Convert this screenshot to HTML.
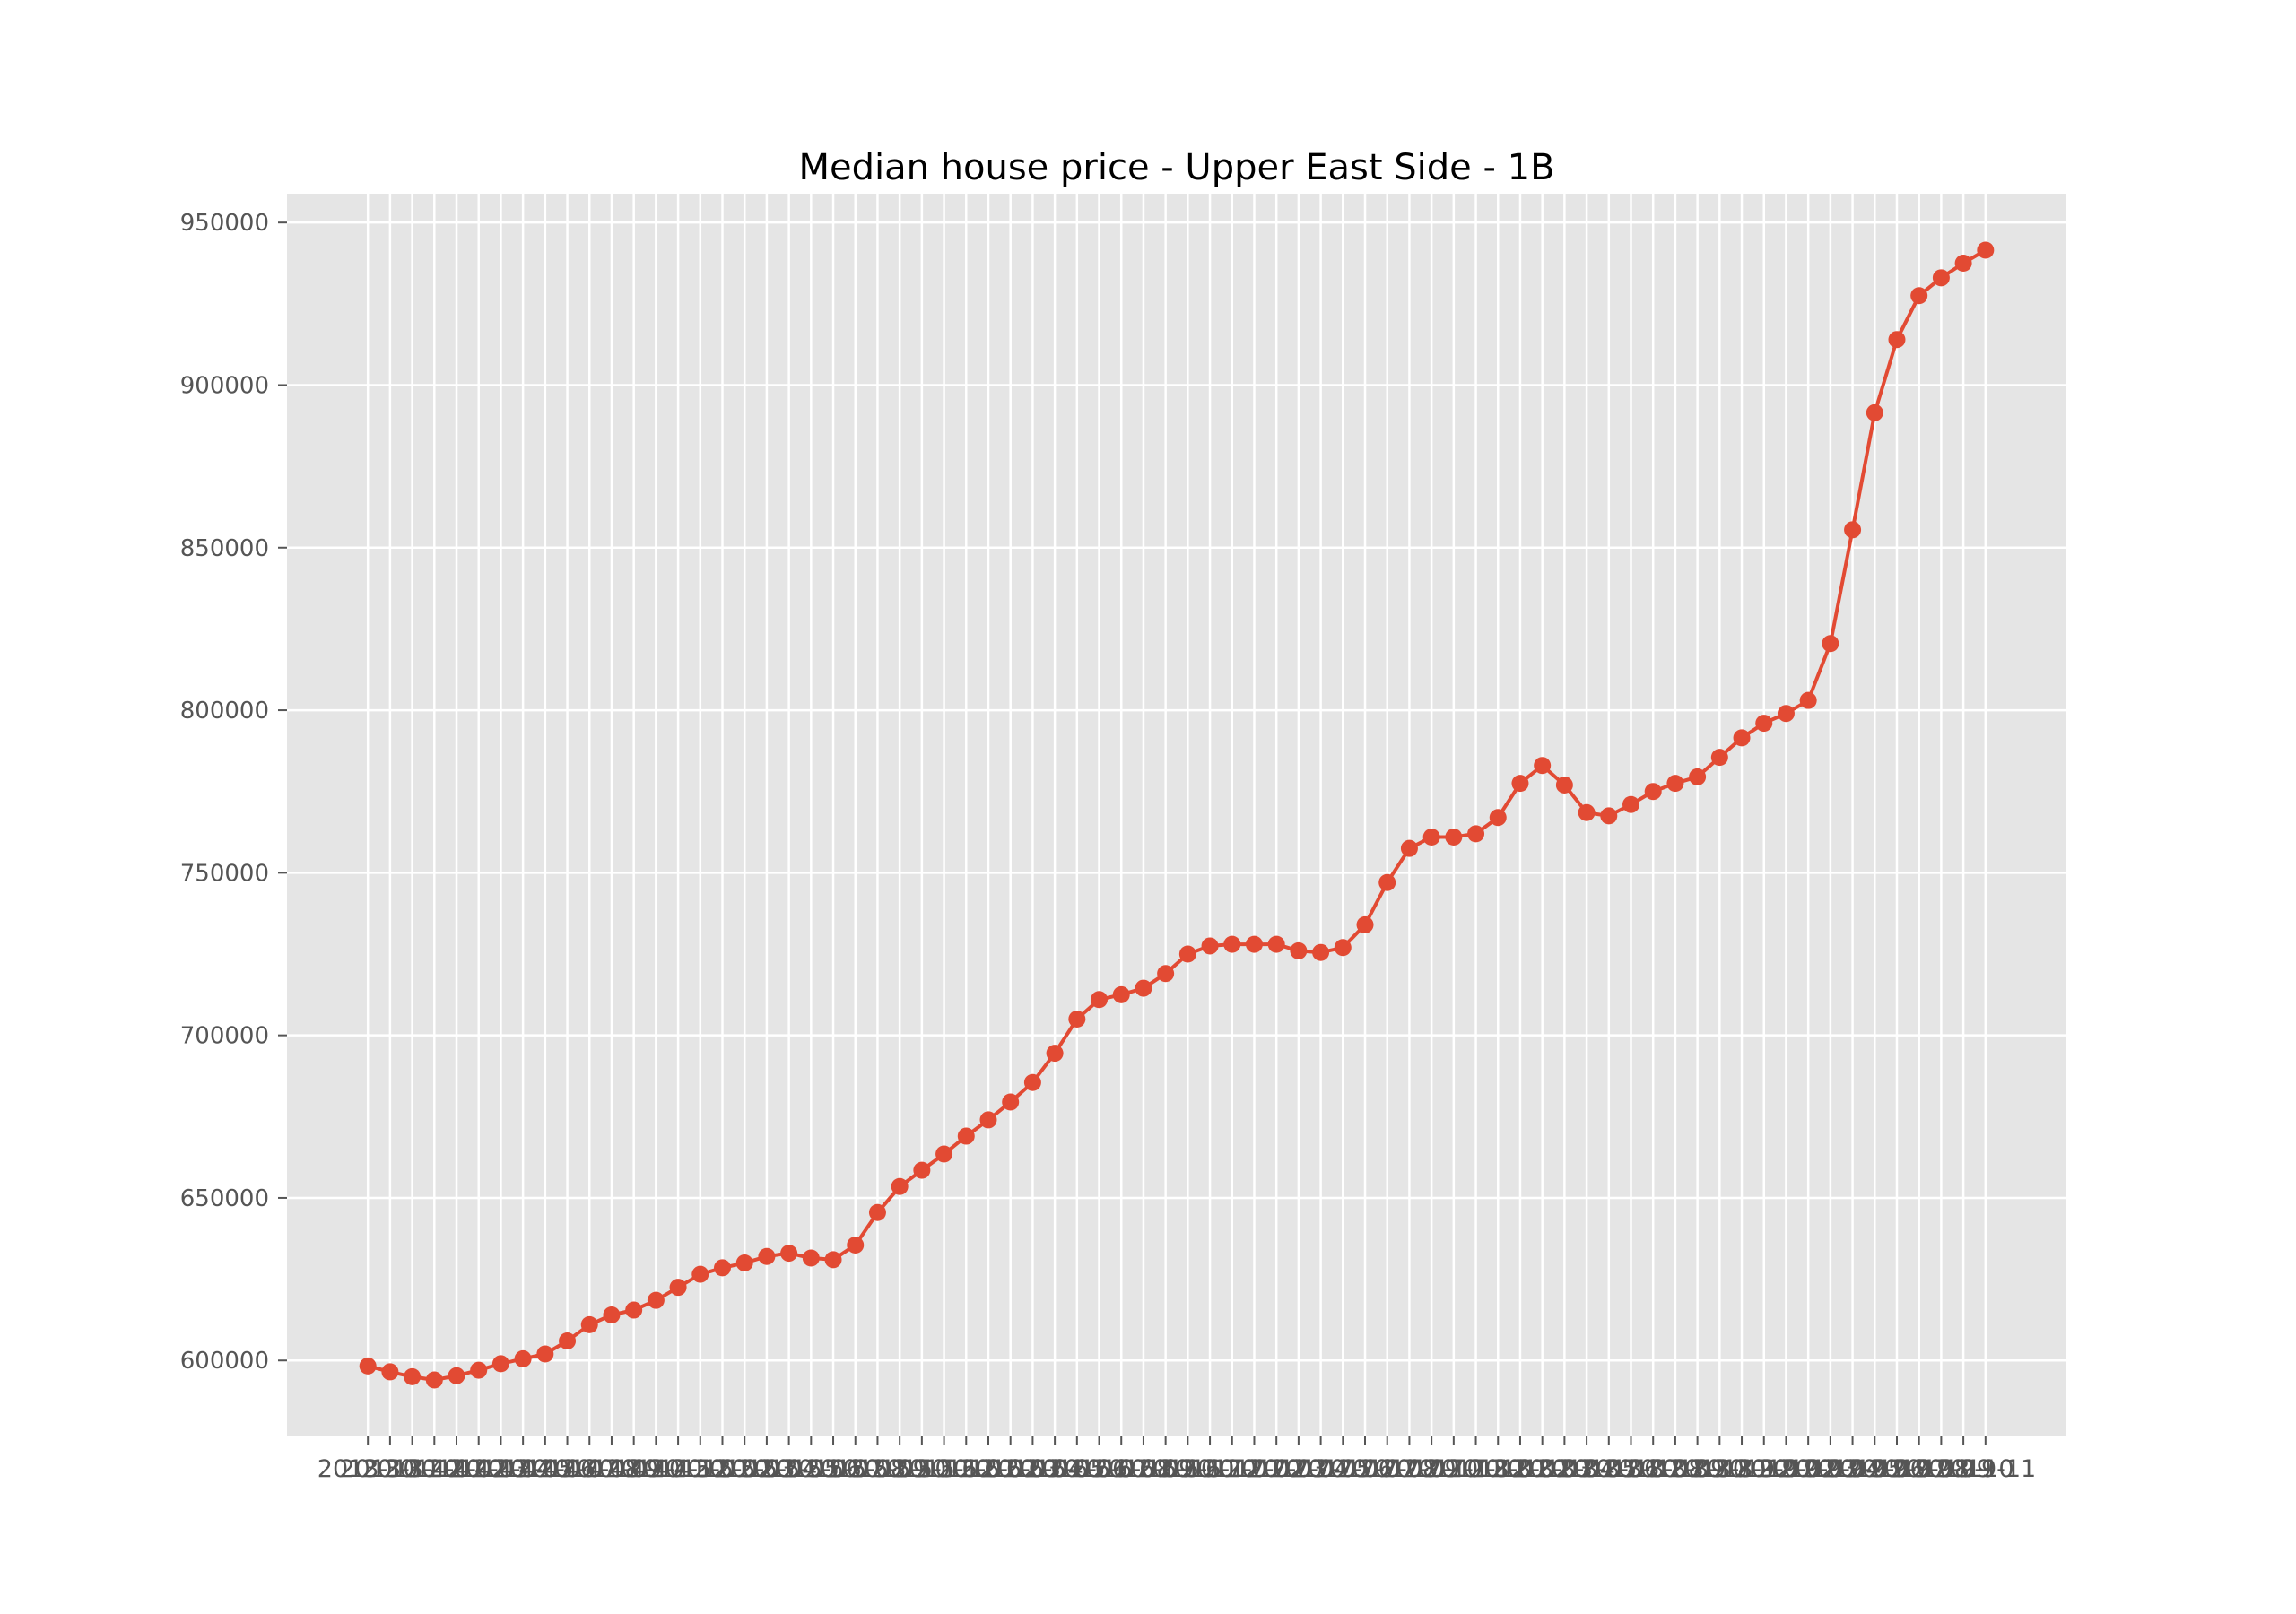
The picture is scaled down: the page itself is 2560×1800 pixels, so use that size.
<!DOCTYPE html>
<html><head><meta charset="utf-8"><title>Median house price</title>
<style>html,body{margin:0;padding:0;background:#fff}svg{display:block}</style>
</head><body>
<svg id="chart" width="2560" height="1800" viewBox="0 0 2560 1800" xmlns="http://www.w3.org/2000/svg" font-family="'DejaVu Sans','Liberation Sans',sans-serif">
<rect x="0" y="0" width="2560" height="1800" fill="#ffffff"/>
<rect x="320" y="216" width="1984" height="1386" fill="#e5e5e5"/>
<g id="grid"></g>
<g id="series"></g>
<g id="xticks"></g>
<g id="yticks"></g>
<text x="1312" y="200" text-anchor="middle" font-size="40" fill="#000">Median house price - Upper East Side - 1B</text>
</svg>
<script>
const prices = [598300,596500,595000,594000,595300,597000,599000,600500,602000,606000,
611000,614000,615500,618500,622500,626500,628500,630000,632000,633000,
631500,631000,635500,645500,653500,658500,663500,669000,674000,679500,
685500,694500,705000,711000,712500,714500,719000,725000,727500,728000,
728000,728000,726000,725500,727000,734000,747000,757500,761000,761000,
762000,767000,777500,783000,777000,768500,767500,771000,775000,777500,
779500,785500,791500,796000,799000,803000,820500,855500,891500,914000,
927500,933000,937500,941500];
const startYear = 2013;
const startMonth = 10;
const yTickValues = [600000,650000,700000,750000,800000,850000,900000,950000];

const NS = "http://www.w3.org/2000/svg";
const L = 320, R = 2304, T = 216, B = 1602;
const n = prices.length;
const labels = [];
for (let i = 0; i < n; i++) {
  const m = (startMonth - 1 + i) % 12 + 1;
  const y = startYear + Math.floor((startMonth - 1 + i) / 12);
  labels.push(y + "-" + String(m).padStart(2, "0"));
}
const mn = Math.min(...prices), mx = Math.max(...prices);
const yMin = mn - 0.05 * (mx - mn), yMax = mx + 0.05 * (mx - mn);
const xMin = -0.05 * (n - 1), xMax = (n - 1) * 1.05;
const xs = i => L + (i - xMin) / (xMax - xMin) * (R - L);
const ys = v => B - (v - yMin) / (yMax - yMin) * (B - T);
function mk(tag, attrs, parent) {
  const e = document.createElementNS(NS, tag);
  for (const k in attrs) e.setAttribute(k, attrs[k]);
  parent.appendChild(e);
  return e;
}
const grid = document.getElementById("grid");
const xt = document.getElementById("xticks");
const yt = document.getElementById("yticks");
const ser = document.getElementById("series");
for (let i = 0; i < n; i++) {
  const x = xs(i);
  const g = mk("line", {x1: x, x2: x, y1: T, y2: B, stroke: "#fff", "stroke-width": 2.5}, grid);
  
  
  const t = mk("line", {x1: x, x2: x, y1: B, y2: B + 10, stroke: "#555", "stroke-width": 2}, xt);
  
  
  const lb = mk("text", {x: x, y: B + 45, "text-anchor": "middle", "font-size": 27, fill: "#555"}, xt);
  lb.textContent = labels[i];
  
  
}
yTickValues.forEach(v => {
  const y = ys(v);
  const g = mk("line", {x1: L, x2: R, y1: y, y2: y, stroke: "#fff", "stroke-width": 2.5}, grid);
  
  
  const t = mk("line", {x1: L - 10, x2: L, y1: y, y2: y, stroke: "#555", "stroke-width": 2}, yt);
  
  
  const lb = mk("text", {x: L - 20, y: y + 9, "text-anchor": "end", "font-size": 26, fill: "#555"}, yt);
  lb.textContent = String(v);
  
  
});
const pts = prices.map((v, i) => xs(i).toFixed(1) + "," + ys(v).toFixed(1)).join(" ");
const line = mk("polyline", {points: pts, fill: "none", stroke: "#e24a33", "stroke-width": 4, "stroke-linejoin": "round"}, ser);


prices.forEach((v, i) => {
  const c = mk("circle", {cx: xs(i), cy: ys(v), r: 9.5, fill: "#e24a33"}, ser);
  
  
});
</script>
</body></html>
